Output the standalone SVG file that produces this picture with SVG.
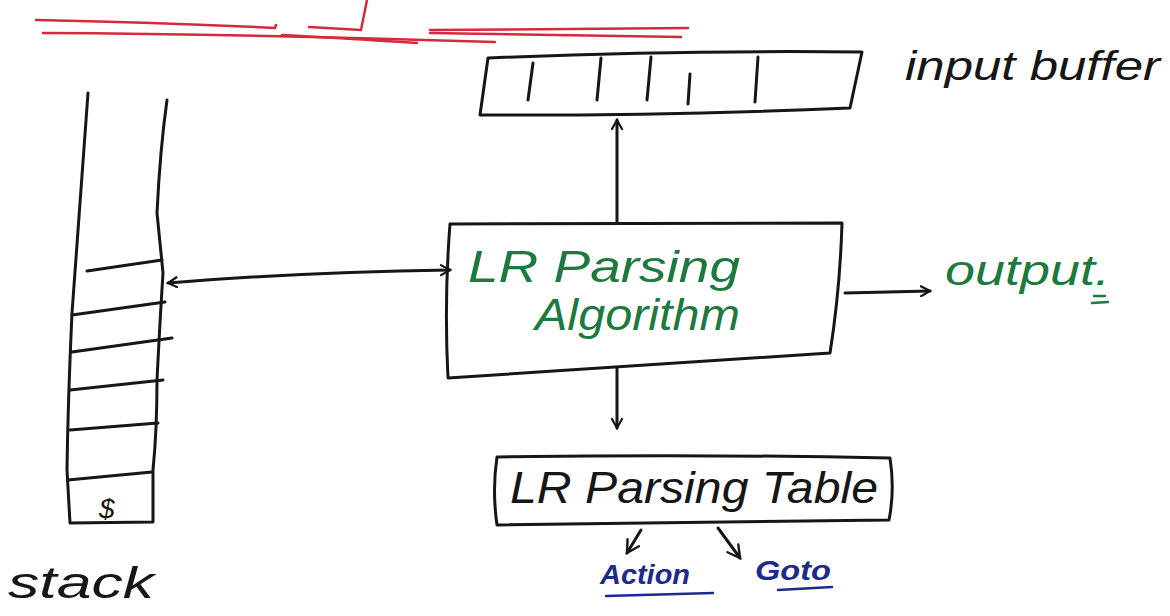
<svg xmlns="http://www.w3.org/2000/svg" width="1170" height="616" viewBox="0 0 1170 616">
<defs>
<style>
.ink{fill:none;stroke:#161616;stroke-width:3;stroke-linecap:round;stroke-linejoin:round}
.red{fill:none;stroke:#d42a3c;stroke-width:2.5;stroke-linecap:round}
.hand{font-family:"Liberation Sans","DejaVu Sans",sans-serif;font-style:italic}
.green{fill:#1d7a3e}
.black{fill:#161616}
.navy{fill:#1c2a8c;font-weight:bold}
</style>
<marker id="ah" viewBox="0 0 12 12" refX="10" refY="6" markerWidth="12" markerHeight="12" markerUnits="userSpaceOnUse" orient="auto-start-reverse">
<path d="M1,1 L10,6 L1,11" fill="none" stroke="#161616" stroke-width="2.2" stroke-linecap="round"/>
</marker>
<marker id="ahs" viewBox="0 0 12 12" refX="10" refY="6" markerWidth="16" markerHeight="16" markerUnits="userSpaceOnUse" orient="auto-start-reverse">
<path d="M1,1 L10,6 L1,11" fill="none" stroke="#161616" stroke-width="1.8" stroke-linecap="round"/>
</marker>
</defs>
<rect width="1170" height="616" fill="#ffffff"/>

<g id="title-underlines">
<path class="red" d="M36,20 Q150,22 275,28 L276,25"/>
<path class="red" d="M43,33 Q250,34 495,42"/>
<path class="red" d="M309,27 L361,30 L367,0"/>
<path class="red" d="M282,35 Q340,38 417,43"/>
<path class="red" d="M430,30 L688,28"/>
<path class="red" d="M430,33 L681,37"/>
</g>

<g id="input-buffer">
<path class="ink" d="M488,58 Q680,50 862,52 L850,108 Q660,116 480,115 Z"/>
<path class="ink" d="M533,63 L528,100 M601,58 L597,100 M651,57 L647,100 M690,74 L688,104 M758,57 L755,102"/>
<text class="hand black" x="905" y="80" font-size="40" textLength="255" lengthAdjust="spacingAndGlyphs">input buffer</text>
</g>

<g id="stack">
<path class="ink" d="M88,93 Q80,200 72,313 Q68,400 67,470 L70,523 L153,522 L153,470 Q157,430 157,380 Q160,320 163,273 L157,213 Q160,150 167,100"/>
<path class="ink" d="M87,271 L162,260 M72,315 L165,302 M72,352 L172,338 M70,390 L163,380 M70,430 L158,423 M68,480 L152,472"/>
<text class="hand black" x="99" y="518" font-size="28">$</text>
<text class="hand black" x="8" y="598" font-size="44" textLength="146" lengthAdjust="spacingAndGlyphs">stack</text>
</g>

<g id="algorithm">
<path class="ink" d="M450,224 L842,223 Q840,290 830,353 L448,378 Q444,300 450,224 Z"/>
<text class="hand green" x="468" y="282" font-size="44" textLength="272" lengthAdjust="spacingAndGlyphs">LR Parsing</text>
<text class="hand green" x="535" y="330" font-size="44" textLength="205" lengthAdjust="spacingAndGlyphs">Algorithm</text>
</g>

<g id="output">
<text class="hand green" x="945" y="285" font-size="42" textLength="165" lengthAdjust="spacingAndGlyphs">output.</text>
<path d="M1094,296 L1105,296 M1092,303 L1108,302" stroke="#1d7a3e" stroke-width="2.5" stroke-linecap="round"/>
</g>

<g id="parsing-table">
<path class="ink" d="M497,457 Q700,454 890,458 Q895,490 889,520 L497,525 Q492,490 497,457 Z"/>
<text class="hand black" x="510" y="503" font-size="44" textLength="368" lengthAdjust="spacingAndGlyphs">LR Parsing Table</text>
</g>

<g id="action">
<text class="hand navy" x="600" y="584" font-size="27" textLength="90" lengthAdjust="spacingAndGlyphs">Action</text>
<path d="M606,596 L713,593" stroke="#1c2a8c" stroke-width="2.5" stroke-linecap="round"/>
</g>

<g id="goto">
<text class="hand navy" x="755" y="580" font-size="27" textLength="76" lengthAdjust="spacingAndGlyphs">Goto</text>
<path d="M778,590 L832,587" stroke="#1c2a8c" stroke-width="2.5" stroke-linecap="round"/>
</g>

<g id="connectors">
<path class="ink" d="M617,223 L617,120" marker-end="url(#ah)"/>
<path class="ink" d="M168,283 Q300,272 450,270" marker-start="url(#ah)" marker-end="url(#ah)"/>
<path class="ink" d="M845,293 L930,291" marker-end="url(#ah)"/>
<path class="ink" d="M617,368 L617,428" marker-end="url(#ah)"/>
<path class="ink" d="M641,530 L627,553" marker-end="url(#ahs)"/>
<path class="ink" d="M718,528 L740,558" marker-end="url(#ahs)"/>
</g>
</svg>
